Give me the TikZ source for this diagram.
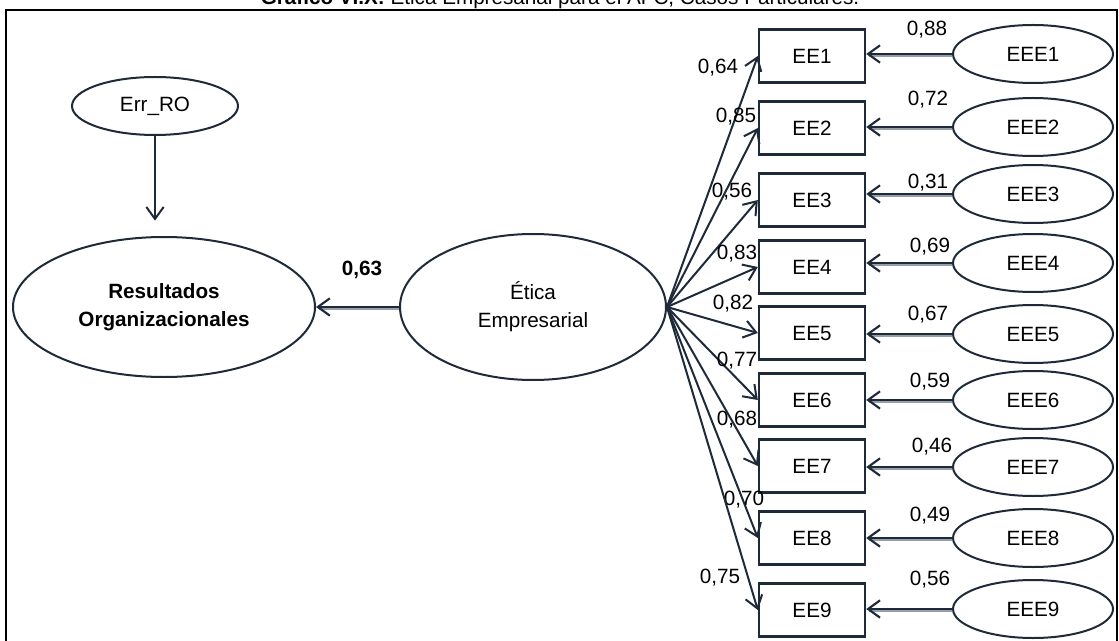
\documentclass[tikz,border=0pt]{standalone}
\usepackage{fontspec}
\setmainfont{Liberation Sans}
\usetikzlibrary{arrows.meta,shapes.geometric}
\definecolor{ink}{RGB}{30,42,58}
\definecolor{shade}{RGB}{150,158,168}
\begin{document}
\begin{tikzpicture}[x=0.75pt,y=-0.75pt,
  txt/.style={font=\fontsize{15.5}{21}\selectfont},
  box/.style={txt,draw=ink,line width=1.8pt,minimum width=79.5pt,minimum height=39.75pt,inner sep=0pt},
  err/.style={txt,ellipse,draw=ink,line width=1.5pt,minimum width=120pt,minimum height=43.5pt,inner sep=0pt},
  lat/.style={txt,ellipse,draw=ink,line width=1.5pt,inner sep=0pt,align=center},
  load/.style={draw=ink,line width=1.5pt,-{Straight Barb[length=9pt,width=13pt,line width=1.5pt]}},
  resid/.style={draw=ink,line width=2.2pt,-{Straight Barb[length=9pt,width=13pt,line width=1.6pt]},
    preaction={draw=shade,line width=1.8pt,-,transform canvas={yshift=-1.7pt},shorten >=2pt}},
  val/.style={txt,inner sep=0pt}
]
\useasboundingbox (0,0) rectangle (1119,641);
\clip (0,0) rectangle (1119,641);

% title and frame
\node[txt,anchor=base] (title) at (560,5) {\textbf{Gráfico VI.X:} Ética Empresarial para el AFC, Casos Particulares.};
\draw[line width=1.6pt] (6,700) -- (6,10) -- (1117,10) -- (1117,700);

% latent variables
\node[err,minimum width=124.5pt] (err) at (155,106) {Err\_RO};
\node[lat,minimum width=226.5pt,minimum height=105pt,font=\fontsize{15.5}{21}\selectfont\bfseries] (ro) at (164,307) {Resultados\\Organizacionales};
\node[lat,minimum width=199.5pt,minimum height=109.5pt] (et) at (533,307) {Ética\\Empresarial};

\draw[load,line width=1.8pt] (err.south) -- ([yshift=11.5pt]err.south |- ro.north);
\draw[resid] (et.west) -- (ro.east);
\node[val,font=\fontsize{15.5}{21}\selectfont\bfseries] (b63) at (362,270) {0,63};

% indicators, their errors and the loadings
\foreach \i/\by/\ey/\l/\lx/\ly/\e/\ex/\exy in {
  1/56/54/{0,64}/718/68/{0,88}/927/30,
  2/128/127/{0,85}/736/117/{0,72}/928/100,
  3/200/194/{0,56}/732/192/{0,31}/928/183,
  4/267/263/{0,83}/737/254/{0,69}/930/247,
  5/333/334/{0,82}/733/304/{0,67}/928/315,
  6/400/400/{0,77}/737/361/{0,59}/930/382,
  7/466/467/{0,68}/737/420/{0,46}/932/447,
  8/538/538/{0,70}/744/500/{0,49}/930/516,
  9/610/609/{0,75}/720/578/{0,56}/930/580}{
  \node[box] (ee\i) at (812,\by) {EE\i};
  \node[err] (eee\i) at (1033,\ey) {EEE\i};
  \draw[load] (et.east) -- (ee\i.west);
  \draw[resid] (eee\i.west) -- (eee\i.west -| ee\i.east);
  \node[val] (l\i) at (\lx,\ly) {\l};
  \node[val] (e\i) at (\ex,\exy) {\e};
}
\end{tikzpicture}
\end{document}
